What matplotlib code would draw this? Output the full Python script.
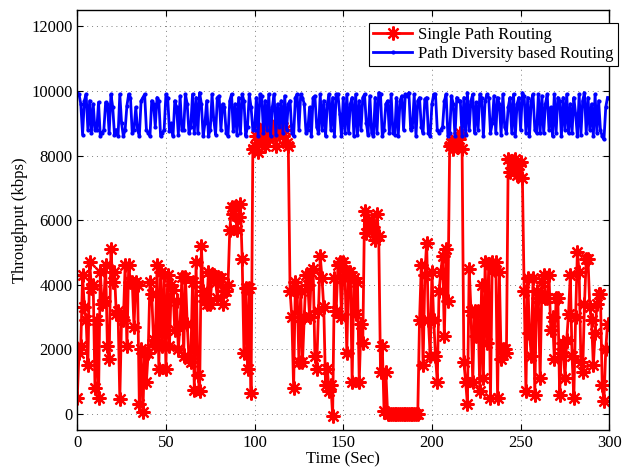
import numpy as np
import matplotlib
matplotlib.use("Agg")
from matplotlib import pyplot as plt

# single path routing throughput (kbps), one sample per second
single_path = [
    500, 1900, 2100, 4300, 3300, 2900, 1500, 4700, 3900, 4000,
    800, 2900, 500, 4400, 3400, 3500, 4600, 2100, 1700, 5100,
    4100, 4400, 3100, 3200, 450, 3000, 2900, 4600, 2100, 4600,
    4100, 4100, 2700, 4100, 4000, 300, 2000, 50, 1900, 1000,
    1900, 4100, 3700, 2300, 2100, 4600, 1400, 4400, 2100, 4300,
    1400, 4300, 2100, 4000, 3850, 2600, 3500, 2000, 2800, 4250,
    1800, 4250, 2800, 1700, 1600, 4100, 750, 4700, 1200, 700,
    5200, 3800, 3500, 3400, 4400, 3400, 4300, 4300, 4100, 3600,
    4200, 4200, 3400, 3800, 3800, 4000, 5700, 6400, 6200, 6400,
    5700, 6100, 6500, 4800, 1900, 3900, 1400, 3900, 650, 8200,
    8300, 8600, 8100, 8800, 8400, 8900, 8300, 8700, 8500, 9000,
    8600, 8800, 8300, 8900, 8700, 9000, 8600, 8800, 8400, 8300,
    3800, 3000, 800, 4100, 3800, 1600, 3800, 1600, 3000, 4300,
    4000, 3000, 4400, 4500, 1800, 1400, 3200, 4900, 4200, 3300,
    900, 1400, 700, 900, -50, 4200, 3200, 4600, 4700, 3000,
    4700, 4300, 1900, 4400, 4400, 1000, 4200, 3100, 4100, 1000,
    2800, 2200, 6300, 5600, 6000, 5800, 5700, 5800, 5400, 6200,
    5500, 1300, 2100, 100, 1300, 0, 0, 0, 0, 0,
    0, 0, 0, 0, 0, 0, 0, 0, 0, 0,
    0, 0, 0, 2900, 4600, 1500, 4300, 5300, 2900, 1800,
    4400, 2900, 1800, 1000, 3800, 4400, 4900, 2400, 5100, 3500,
    8300, 8400, 8200, 8500, 8300, 8500, 8700, 8200, 1600, 1000,
    300, 4500, 3200, 1000, 3200, 2400, 3200, 700, 4000, 1100,
    4700, 2200, 4600, 500, 4700, 4500, 4700, 500, 4400, 1700,
    2000, 2000, 1900, 7900, 7500, 7800, 7600, 7900, 7400, 7700,
    7800, 7300, 3800, 700, 4200, 2500, 1800, 4200, 600, 3800,
    3600, 1100, 4100, 4300, 3600, 3600, 4300, 2600, 3000, 1700,
    3600, 3600, 600, 1900, 2200, 1100, 2300, 3100, 4300, 1800,
    500, 3000, 5000, 4400, 1600, 1300, 3400, 4800, 4800, 3300,
    2900, 1500, 2500, 3400, 3700, 3700, 900, 400, 2000, 2800,
]

# path diversity based routing throughput (kbps)
path_diversity = [
    9950, 9900, 9600, 8650, 9700, 9900, 8800, 9700, 8700, 9600,
    8800, 8800, 9650, 8600, 8700, 8800, 9650, 9600, 8700, 9900,
    9500, 8650, 8800, 8600, 9900, 9000, 8600, 8800, 9550, 9900,
    9800, 8700, 8800, 9500, 8800, 8600, 9700, 9800, 9900, 8800,
    8700, 8600, 9700, 9600, 8900, 9800, 9700, 8600, 8700, 8800,
    9900, 9800, 8750, 9000, 8600, 9700, 9500, 8650, 9850, 8800,
    8800, 9900, 9600, 8700, 8900, 9900, 8700, 9800, 8700, 9950,
    9600, 8600, 9000, 9700, 8600, 8800, 9900, 9100, 8650, 9800,
    9850, 8800, 9600, 9500, 8700, 8600, 9700, 9900, 8750, 9600,
    8650, 9800, 8700, 9900, 9700, 8600, 8900, 9900, 9500, 8800,
    8800, 9800, 8600, 9900, 9850, 8700, 9700, 8800, 9900, 8600,
    9500, 9900, 8650, 9600, 8900, 9700, 8700, 9850, 8800, 9600,
    9700, 8700, 8600, 9800, 9900, 8800, 9900, 9800, 9600, 8700,
    8800, 9500, 8600, 9800, 9850, 8900, 8700, 9900, 8800, 9700,
    8600, 9600, 9900, 8800, 9800, 8600, 9900, 9900, 9300, 8600,
    9800, 8700, 9900, 8700, 9600, 9800, 8600, 9900, 8650, 9700,
    8800, 9800, 9900, 9000, 8650, 9850, 8700, 8600, 9800, 8700,
    9950, 9900, 8600, 8800, 9600, 9700, 8700, 9900, 8700, 8650,
    9800, 8600, 9700, 9850, 8800, 9900, 9850, 9950, 8800, 8900,
    9900, 8600, 9700, 9800, 8900, 8700, 9750, 9800, 8700, 8600,
    9600, 9900, 9900, 8800, 8700, 8800, 8900, 9700, 9900, 8600,
    8700, 9850, 9600, 8600, 9800, 9700, 9700, 8600, 9800, 8650,
    9950, 8800, 9700, 9900, 8700, 9650, 8800, 9900, 9800, 8600,
    9700, 9900, 9800, 8700, 9000, 9850, 8700, 9800, 9600, 8650,
    9900, 8900, 8700, 9500, 9800, 8700, 9900, 8600, 9600, 9800,
    8800, 9950, 9850, 8700, 9800, 8600, 9700, 9900, 8800, 8700,
    9900, 8700, 9850, 8700, 9600, 9900, 8800, 9500, 8600, 9900,
    8700, 9800, 9700, 8600, 9800, 8800, 9900, 8700, 9600, 8700,
    9800, 9300, 8600, 9900, 8650, 9700, 9950, 8700, 9800, 8800,
    9600, 8600, 9900, 8700, 9700, 8800, 8600, 8500, 9500, 9800,
]

t_single = np.arange(len(single_path))
t_div = np.arange(len(path_diversity))

plt.rcParams['font.family'] = ['Liberation Serif', 'DejaVu Serif']
plt.rcParams['font.size'] = 12

fig = plt.figure(figsize=(6.23, 4.70), dpi=100)
ax = fig.add_axes([0.124, 0.085, 0.854, 0.893])

# matlab style asterisk: 8 spokes
ax.plot(t_single, single_path, color='red', linewidth=2, marker=(8, 2, 0),
        markersize=10, markeredgewidth=1.6, label='Single Path Routing')
ax.plot(t_div, path_diversity, color='blue', linewidth=2, marker='.',
        markersize=4, label='Path Diversity based Routing')

ax.set_xlim(0, 300)
ax.set_ylim(-500, 12500)
ax.set_xticks(np.arange(0, 301, 50))
ax.set_yticks(np.arange(0, 12001, 2000))
ax.tick_params(direction='in', top=True, right=True, length=4)
ax.grid(True, linestyle=(0, (1, 4)), color='gray', linewidth=0.7)
for s in ax.spines.values():
    s.set_linewidth(1.0)

ax.set_xlabel('Time (Sec)', labelpad=0)
ax.set_ylabel('Throughput (kbps)', labelpad=2)

leg = ax.legend(loc='upper right', bbox_to_anchor=(618 / 623, 1 - 23 / 470),
                bbox_transform=fig.transFigure, fancybox=False, framealpha=1,
                edgecolor='black', borderpad=0.25, labelspacing=0.15,
                handlelength=2.3, handletextpad=0.4, borderaxespad=0)
leg.get_frame().set_linewidth(0.8)

fig.savefig('out.png', dpi=100)
